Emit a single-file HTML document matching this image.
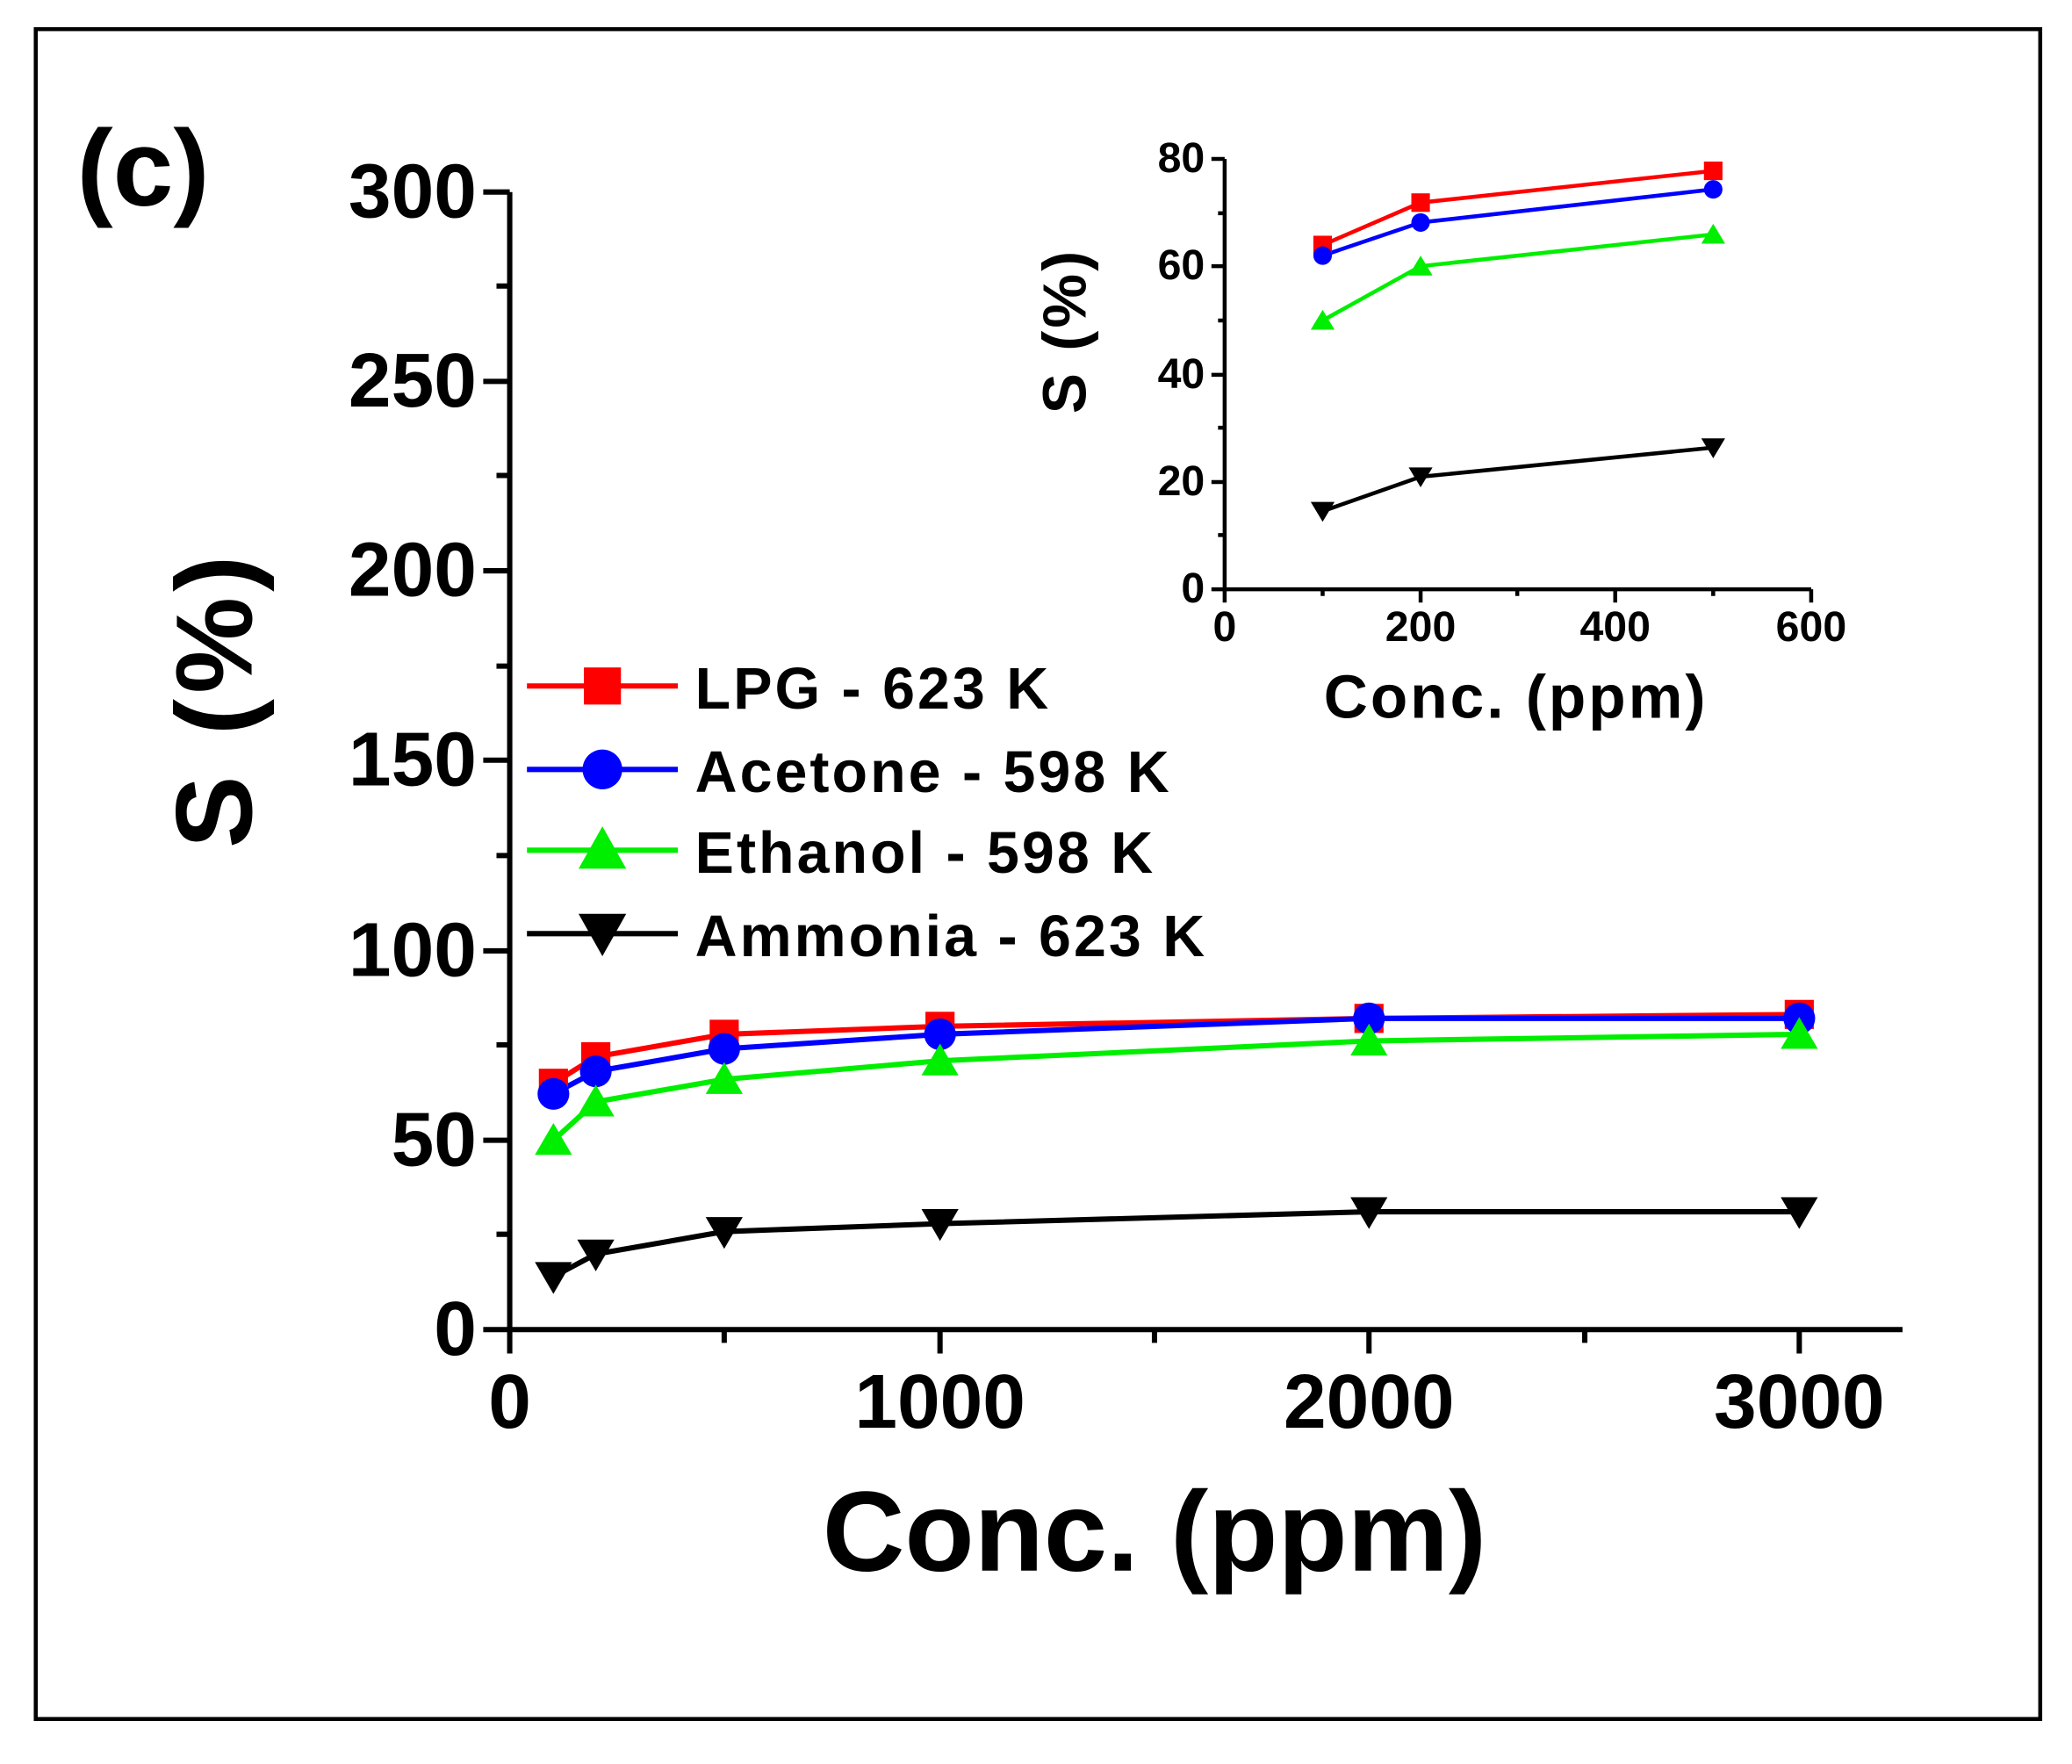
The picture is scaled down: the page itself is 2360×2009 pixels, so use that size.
<!DOCTYPE html>
<html><head><style>html,body{margin:0;padding:0;background:#fff}svg{display:block}text{font-family:"Liberation Sans",sans-serif;font-weight:bold;fill:#000}</style></head>
<body>
<svg width="2360" height="2009" viewBox="0 0 1565 1332" preserveAspectRatio="none" xmlns="http://www.w3.org/2000/svg">
<rect x="27" y="22" width="1514" height="1276" fill="none" stroke="#000" stroke-width="3"/>
<text x="58" y="155" font-size="82">(c)</text>
<g stroke="#000" stroke-width="4" fill="none">
<path d="M385 145 V1004 H1437"/>
<path d="M365 145H385M365 288H385M365 431H385M365 574H385M365 718H385M365 861H385M365 1004H385"/>
<path d="M375 216H385M375 359H385M375 503H385M375 646H385M375 789H385M375 932H385"/>
<path d="M385 1004V1022M710 1004V1022M1034 1004V1022M1359 1004V1022"/>
<path d="M547 1004V1014M872 1004V1014M1197 1004V1014"/>
</g>
<g font-size="58" text-anchor="end">
<text x="360" y="164">300</text><text x="360" y="307">250</text><text x="360" y="450">200</text><text x="360" y="593">150</text><text x="360" y="737">100</text><text x="360" y="880">50</text><text x="360" y="1023">0</text>
</g>
<g font-size="58" text-anchor="middle">
<text x="385" y="1078">0</text><text x="710" y="1078">1000</text><text x="1034" y="1078">2000</text><text x="1359" y="1078">3000</text>
</g>
<text x="872" y="1186" font-size="86" text-anchor="middle">Conc. (ppm)</text>
<text transform="translate(190,528) rotate(-90)" font-size="82" text-anchor="middle" letter-spacing="4">S (%)</text>
<g fill="none" stroke-width="4">
<polyline stroke="#ff0000" points="418,818 450,798 547,781 710,775 1034,769 1359,766"/>
<polyline stroke="#0000ff" points="418,826 450,809 547,792 710,781 1034,769 1359,769"/>
<polyline stroke="#00ee00" points="418,861 450,832 547,815 710,801 1034,786 1359,781"/>
<polyline stroke="#000" points="418,964 450,947 547,930 710,924 1034,915 1359,915"/>
</g>
<g fill="#ff0000"><rect x="407" y="807" width="22" height="22"/><rect x="439" y="787" width="22" height="22"/><rect x="536" y="770" width="22" height="22"/><rect x="699" y="764" width="22" height="22"/><rect x="1023" y="758" width="22" height="22"/><rect x="1348" y="755" width="22" height="22"/></g>
<g fill="#0000ff"><circle cx="418" cy="826" r="12"/><circle cx="450" cy="809" r="12"/><circle cx="547" cy="792" r="12"/><circle cx="710" cy="781" r="12"/><circle cx="1034" cy="769" r="12"/><circle cx="1359" cy="769" r="12"/></g>
<g fill="#00ee00"><path d="M418 848l14 24h-28z"/><path d="M450 819l14 24h-28z"/><path d="M547 802l14 24h-28z"/><path d="M710 788l14 24h-28z"/><path d="M1034 773l14 24h-28z"/><path d="M1359 768l14 24h-28z"/></g>
<g fill="#000"><path d="M418 977l14-24h-28z"/><path d="M450 960l14-24h-28z"/><path d="M547 943l14-24h-28z"/><path d="M710 937l14-24h-28z"/><path d="M1034 928l14-24h-28z"/><path d="M1359 928l14-24h-28z"/></g>
<g stroke-width="4"><line x1="398" y1="518" x2="512" y2="518" stroke="#ff0000"/><line x1="398" y1="581" x2="512" y2="581" stroke="#0000ff"/><line x1="398" y1="642" x2="512" y2="642" stroke="#00ee00"/><line x1="398" y1="705" x2="512" y2="705" stroke="#000"/></g>
<rect x="441" y="504" width="28" height="28" fill="#ff0000"/>
<circle cx="455" cy="581" r="15" fill="#0000ff"/>
<path d="M455 624l18 32h-36z" fill="#00ee00"/>
<path d="M455 722l18-32h-36z" fill="#000"/>
<g font-size="44" letter-spacing="2"><text x="525" y="535">LPG - 623 K</text><text x="525" y="598">Acetone - 598 K</text><text x="525" y="659">Ethanol - 598 K</text><text x="525" y="722">Ammonia - 623 K</text></g>
<g stroke="#000" stroke-width="3" fill="none">
<path d="M925 120V445H1368"/>
<path d="M915 120H925M915 201H925M915 283H925M915 364H925M915 445H925"/>
<path d="M920 161H925M920 242H925M920 323H925M920 404H925"/>
<path d="M925 445V455M1073 445V455M1220 445V455M1368 445V455M999 445V450M1146 445V450M1294 445V450"/>
</g>
<g font-size="32" text-anchor="end"><text x="910" y="130">80</text><text x="910" y="211">60</text><text x="910" y="293">40</text><text x="910" y="374">20</text><text x="910" y="455">0</text></g>
<g font-size="32" text-anchor="middle"><text x="925" y="484">0</text><text x="1073" y="484">200</text><text x="1220" y="484">400</text><text x="1368" y="484">600</text></g>
<text x="1145" y="542" font-size="46" text-anchor="middle" letter-spacing="2">Conc. (ppm)</text>
<text transform="translate(820,250) rotate(-90)" font-size="46" text-anchor="middle" letter-spacing="2">S (%)</text>
<g fill="none" stroke-width="3">
<polyline stroke="#ff0000" points="999,185 1073,153 1294,129"/>
<polyline stroke="#0000ff" points="999,193 1073,168 1294,143"/>
<polyline stroke="#00ee00" points="999,242 1073,201 1294,177"/>
<polyline stroke="#000" points="999,386 1073,360 1294,338"/>
</g>
<g fill="#ff0000"><rect x="992" y="178" width="14" height="14"/><rect x="1066" y="146" width="14" height="14"/><rect x="1287" y="122" width="14" height="14"/></g>
<g fill="#0000ff"><circle cx="999" cy="193" r="7"/><circle cx="1073" cy="168" r="7"/><circle cx="1294" cy="143" r="7"/></g>
<g fill="#00ee00"><path d="M999 234l9 15h-18z"/><path d="M1073 193l9 15h-18z"/><path d="M1294 169l9 15h-18z"/></g>
<g fill="#000"><path d="M999 394l9-15h-18z"/><path d="M1073 368l9-15h-18z"/><path d="M1294 346l9-15h-18z"/></g>
</svg>
</body></html>
